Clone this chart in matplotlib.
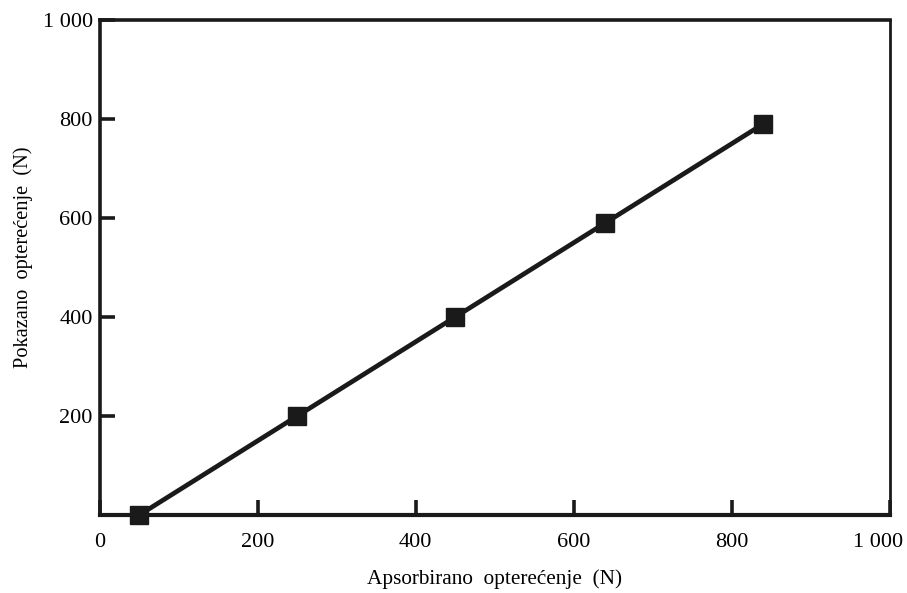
import matplotlib.pyplot as plt
from matplotlib.transforms import ScaledTranslation

absorbed = [50, 250, 450, 640, 840]
shown = [0, 200, 400, 590, 790]

x_ticks = [0, 200, 400, 600, 800, 1000]
x_labels = ["0", "200", "400", "600", "800", "1 000"]
y_ticks = [200, 400, 600, 800, 1000]
y_labels = ["200", "400", "600", "800", "1 000"]

plt.rcParams['font.family'] = ['Liberation Serif', 'DejaVu Serif']

fig = plt.figure(figsize=(9.07, 5.93), dpi=100)
ax = fig.add_axes([0.110, 0.1315, 0.871, 0.835])

ax.plot(absorbed, shown, color="#1a1a1a", linewidth=3.4, marker="s",
        markersize=13.5, markerfacecolor="#1a1a1a", markeredgecolor="#1a1a1a",
        clip_on=False, zorder=5)

ax.set_xlim(0, 1000)
ax.set_ylim(0, 1000)
ax.set_xticks(x_ticks)
ax.set_xticklabels(x_labels)
ax.set_yticks(y_ticks)
ax.set_yticklabels(y_labels)
ax.tick_params(direction="in", length=11, width=2.6, color="#1a1a1a",
               labelsize=16, pad=5)
ax.tick_params(axis="x", pad=13)

# last x label sits a bit left of its tick, so it stays inside the figure
last = ax.get_xticklabels()[-1]
last.set_transform(last.get_transform() + ScaledTranslation(-12 / 100, 0, fig.dpi_scale_trans))

for side, lw in [("left", 2.6), ("bottom", 3.0), ("top", 2.6), ("right", 2.0)]:
    ax.spines[side].set_linewidth(lw)
    ax.spines[side].set_color("#1a1a1a")

ax.set_xlabel("Apsorbirano  opterećenje  (N)", fontsize=15.3)
ax.set_ylabel("Pokazano  opterećenje  (N)", fontsize=14.7)
ax.xaxis.set_label_coords(0.5, -0.11)
ax.yaxis.set_label_coords(-0.085, 0.521)

fig.savefig("out.png", dpi=100)
